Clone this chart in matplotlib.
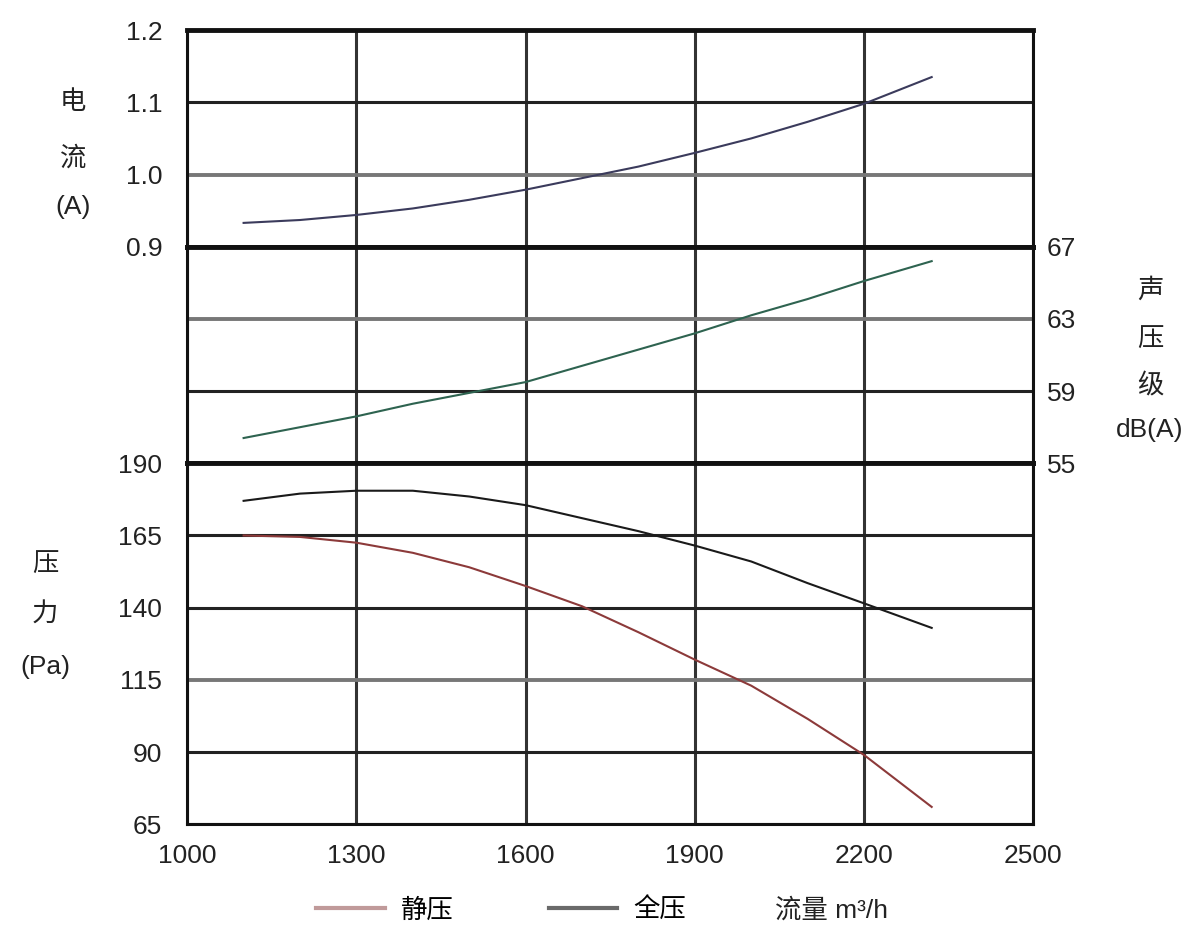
import matplotlib.pyplot as plt
from matplotlib.lines import Line2D

plt.rcParams['font.family'] = ['Liberation Sans', 'Noto Sans CJK SC', 'DejaVu Sans']

# flow rate m3/h
flow = [1100, 1200, 1300, 1400, 1500, 1600, 1700, 1800, 1900, 2000, 2100, 2200, 2320]
# current (A)
current = [0.933, 0.937, 0.944, 0.953, 0.965, 0.979, 0.995, 1.011, 1.030, 1.050, 1.073, 1.098, 1.135]
# sound pressure level dB(A)
noise = [56.4, 57.0, 57.6, 58.3, 58.9, 59.5, 60.4, 61.3, 62.2, 63.2, 64.1, 65.1, 66.2]
# static / total pressure (Pa)
static_p = [165, 164.5, 162.5, 159, 154, 147.5, 140.5, 131.5, 122, 113, 101.5, 89, 71]
total_p = [177, 179.5, 180.5, 180.5, 178.5, 175.5, 171, 166.5, 161.5, 156, 148.5, 141.5, 133]

x_ticks = [1000, 1300, 1600, 1900, 2200, 2500]
current_ticks = [0.9, 1.0, 1.1, 1.2]
noise_ticks = [55, 59, 63, 67]
pressure_ticks = [65, 90, 115, 140, 165, 190]

fig, (ax1, ax2, ax3) = plt.subplots(3, 1, figsize=(12, 9.42), dpi=100, sharex=True,
                                    gridspec_kw=dict(height_ratios=[3, 3, 5], hspace=0))
fig.subplots_adjust(left=0.156, right=0.861, top=0.968, bottom=0.125)

ax1.plot(flow, current, color='#3b3b5c', lw=1.5)
ax2.plot(flow, noise, color='#2e6350', lw=1.5)
ax3.plot(flow, total_p, color='#1a1a1a', lw=1.5)
ax3.plot(flow, static_p, color='#8c3a3a', lw=1.5)

ax1.set_ylim(0.9, 1.2)
ax1.set_yticks(current_ticks)
ax1.set_yticklabels(['0.9', '1.0', '1.1', '1.2'])
ax2.set_ylim(55, 67)
ax2.set_yticks(noise_ticks)
ax2.yaxis.tick_right()
ax3.set_ylim(65, 190)
ax3.set_yticks(pressure_ticks)
ax3.set_xlim(1000, 2500)
ax3.set_xticks(x_ticks)

for ax in (ax1, ax2, ax3):
    ax.grid(True, color='#222222', lw=2.2)
    ax.xaxis.grid(True, color='#333333', lw=2.2)
    ax.tick_params(length=0, labelsize=19, colors='#222222')
    ax.tick_params(axis='y', pad=18)
    for s in ax.spines.values():
        s.set_linewidth(2.2)
        s.set_color('#111111')
ax2.tick_params(axis='y', pad=10)
ax3.tick_params(axis='x', pad=14)

# panel boundaries are heavier
ax1.spines['bottom'].set_linewidth(3.5)
ax2.spines['top'].set_linewidth(3.5)
ax2.spines['bottom'].set_linewidth(3.5)
ax3.spines['top'].set_linewidth(3.5)
ax1.spines['top'].set_linewidth(3.5)

# some grid lines are lighter grey
for ax, val in ((ax1, 1.0), (ax2, 63), (ax3, 115)):
    ticks = list(ax.get_yticks())
    gl = ax.yaxis.get_gridlines()[ticks.index(val)]
    gl.set_color('#777777')
    gl.set_linewidth(2.8)

# stacked axis titles
W, H = 1200, 942
def ftext(px, py, s, size=19):
    fig.text(px / W, 1 - py / H, s, ha='center', va='center', fontsize=size, color='#222222')

for py, s in ((102, '电'), (158, '流'), (207, '(A)')):
    ftext(73, py, s)
for py, s in ((290, '声'), (340, '压'), (386, '级'), (430, 'dB(A)')):
    ftext(1150, py, s)
for py, s in ((565, '压'), (615, '力'), (667, '(Pa)')):
    ftext(45, py, s)

handles = [Line2D([], [], color='#c09a9a', lw=3),
           Line2D([], [], color='#6a6a6a', lw=3)]
fig.legend(handles, ['静压', '全压'], loc='center', bbox_to_anchor=(501 / W, 1 - 910 / H),
           ncol=2, frameon=False, fontsize=19, handlelength=2.6, handletextpad=0.6,
           columnspacing=3.6, prop=None)
fig.text(775 / W, 1 - 910 / H, '流量 m³/h', ha='left', va='center', fontsize=19, color='#222222')

fig.savefig('out.png', dpi=100)
